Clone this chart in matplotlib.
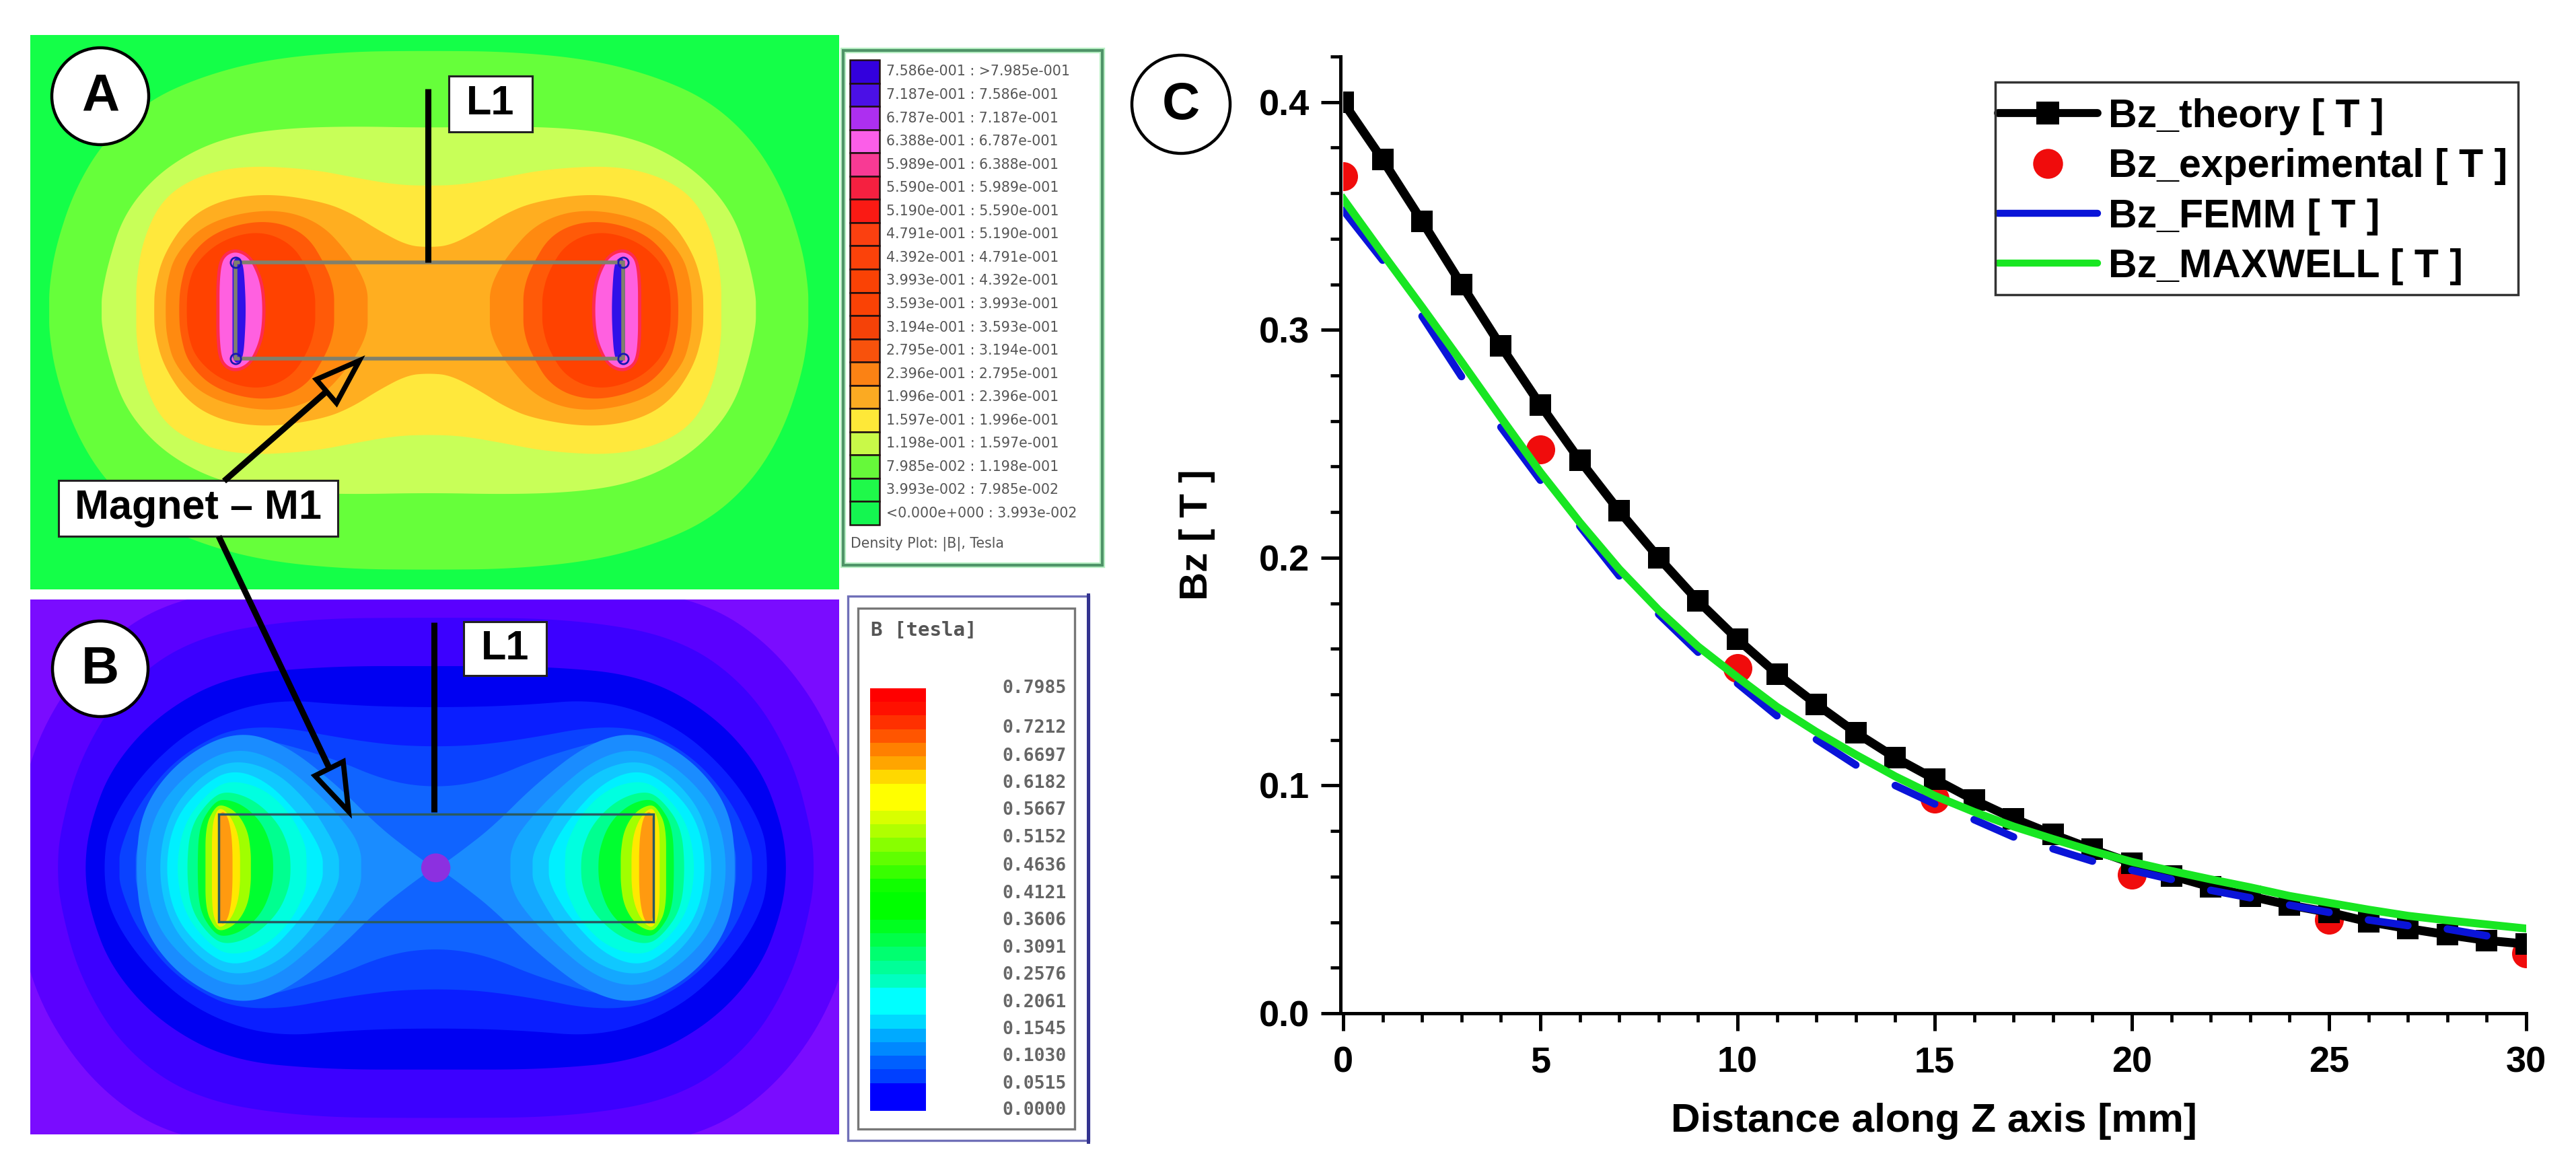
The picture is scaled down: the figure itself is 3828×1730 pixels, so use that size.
import numpy as np
import matplotlib
matplotlib.use("Agg")
import matplotlib.pyplot as plt
from matplotlib.lines import Line2D
from matplotlib.patches import Rectangle, Circle, Polygon, Ellipse

plt.rcParams['font.family'] = ['Liberation Sans', 'DejaVu Sans']
W, H = 3828, 1730

# ---------- chart C data ----------
z_mm = list(range(31))
bz_theory = [.400,.3747,.3477,.320,.2929,.2671,.2428,.2205,.200,.181,.1642,.149,.1357,.1232,.1122,.1028,
             .0936,.0855,.0785,.072,.066,.0604,.0555,.0514,.0475,.0443,.0402,.0372,.0345,.032,.0304]
bz_femm = [.3526,.3306,.306,.2795,.2573,.2340,.2139,.1920,.1752,.1585,.1448,.1306,.1202,.109,.100,.0919,
           .085,.0774,.0722,.0668,.0628,.0588,.054,.0507,.0475,.0443,.041,.0385,.037,.034,.032]
bz_maxwell = [.3575,.3335,.3100,.2860,.2615,.2375,.2155,.1950,.177,.161,.1475,.1345,.1235,.1135,.104,.0955,
              .0884,.0820,.0765,.0712,.0665,.0625,.0588,.0553,.0515,.0485,.0455,.0428,.0408,.039,.0372]
exp_z = [0, 5, 10, 15, 20, 25, 30]
bz_exp = [.3675,.2475,.1515,.0942,.0608,.041,.0262]
series_labels = ['Bz_theory [ T ]', 'Bz_experimental [ T ]', 'Bz_FEMM [ T ]', 'Bz_MAXWELL [ T ]']
x_ticks = [0, 5, 10, 15, 20, 25, 30]
y_ticks = [0.0, 0.1, 0.2, 0.3, 0.4]

# ---------- FEMM legend (panel A) ----------
femm_ranges = ['7.586e-001 : >7.985e-001','7.187e-001 : 7.586e-001','6.787e-001 : 7.187e-001','6.388e-001 : 6.787e-001',
               '5.989e-001 : 6.388e-001','5.590e-001 : 5.989e-001','5.190e-001 : 5.590e-001','4.791e-001 : 5.190e-001',
               '4.392e-001 : 4.791e-001','3.993e-001 : 4.392e-001','3.593e-001 : 3.993e-001','3.194e-001 : 3.593e-001',
               '2.795e-001 : 3.194e-001','2.396e-001 : 2.795e-001','1.996e-001 : 2.396e-001','1.597e-001 : 1.996e-001',
               '1.198e-001 : 1.597e-001','7.985e-002 : 1.198e-001','3.993e-002 : 7.985e-002','<0.000e+000 : 3.993e-002']
femm_colors = ['#3300dd','#4b10e6','#ad2ff0','#fb5ee8','#f83a94','#f52040','#fa1a14','#fb4010','#fb420a','#fa4205',
               '#fa4205','#f54208','#f8520c','#fb8214','#fbaa22','#fee838','#c9f948','#66f93a','#1ff94a','#14f650']

# ---------- Maxwell legend (panel B) ----------
maxwell_ticks = ['0.7985','0.7212','0.6697','0.6182','0.5667','0.5152','0.4636','0.4121','0.3606','0.3091','0.2576','0.2061','0.1545','0.1030','0.0515','0.0000']
maxwell_tick_y = [1023,1082,1124,1164,1204,1245,1287,1328,1368,1409,1449,1490,1530,1570,1611,1650]
maxwell_colors = ['#ff0000','#ff1000','#ff3000','#ff5500','#ff8000','#ffa500','#ffd800','#ffff00','#ffff00','#d8ff00','#b0ff00',
                  '#88ff00','#60ff00','#38ff00','#10ff00','#00ff00','#00ff00','#00ff20','#00ff48','#00ff70','#00ff98','#00ffc0',
                  '#00ffff','#00ffff','#00d8ff','#00aaff','#0088ff','#0060ff','#0040ff','#0000ff','#0000ff']

# ---------- field contours (dx, dy from panel centre, one quadrant) ----------
a_centre = (793, 822)
a_bg = '#14ff48'
a_outer = [
    ('#66ff3a', [(0,688),(150,686),(300,665),(420,620),(520,555),(600,450),(655,320),(690,170),(702,60),(702,0)]),
    ('#c8ff58', [(0,484),(150,488),(270,482),(363,462),(440,420),(510,350),(565,250),(592,130),(605,40),(605,0)]),
    ('#ffe83c', [(0,330),(60,333),(130,350),(220,375),(343,384),(430,355),(493,295),(528,190),(541,80),(541,0)]),
    ('#ffae20', [(0,167),(40,172),(93,212),(140,255),(193,287),(293,310),(380,295),(445,245),(490,150),(507,60),(508,0)]),
]
# lobes: left lobe, upper half, outer middle to inner middle
a_lobes = [
    ('#ff8a10', [(306,822),(308,750),(325,670),(385,585),(500,550),(590,585),(650,680),(680,760),(680,822)]),
    ('#ff5a08', [(331,822),(333,760),(348,680),(400,610),(490,580),(565,615),(605,710),(618,770),(618,822)]),
    ('#ff4200', [(345,822),(347,760),(362,695),(410,635),(480,610),(540,645),(572,720),(583,780),(583,822)]),
    ('#ff2a50', [(400,822),(400,750),(404,695),(416,668),(435,658),(456,668),(472,695),(488,750),(492,822)]),
    ('#ff60e0', [(406,822),(406,750),(410,695),(420,675),(435,667),(452,675),(466,695),(482,750),(486,822)]),
    ('#3010e8', [(430,822),(430,730),(430,700),(433,688),(438,682),(445,688),(449,700),(452,730),(455,822)]),
]
a_magnet = (435, 695, 1152, 950)

b_centre = (806, 765)
b_bg = '#7a0cff'
b_outer = [
    ('#5a00ff', [(0,790),(300,785),(490,745),(620,620),(720,420),(770,200),(785,60),(785,0)]),
    ('#3c00ff', [(0,695),(250,692),(450,640),(580,500),(660,300),(695,100),(700,0)]),
    ('#0000f2', [(0,560),(200,560),(380,535),(510,430),(600,280),(640,120),(650,0)]),
    ('#0a1eff', [(0,445),(150,450),(305,470),(440,400),(540,270),(605,120),(615,0)]),
    ('#0a42ff', [(0,335),(120,345),(345,408),(470,320),(550,180),(585,50),(585,0)]),
    ('#1064ff', [(0,222),(90,240),(200,310),(355,372),(470,300),(530,170),(555,50),(555,0)]),
]
b_lobes = [
    ('#1a8cff', [(250,765),(262,600),(330,465),(430,385),(520,415),(620,530),(700,650),(760,720),(802,765)]),
    ('#14a8ff', [(265,765),(285,610),(350,495),(430,430),(510,460),(590,560),(650,660),(668,720),(668,765)]),
    ('#10c8ff', [(292,765),(310,620),(365,515),(430,462),(510,495),(575,590),(612,680),(627,730),(627,765)]),
    ('#00f0ff', [(305,765),(322,630),(375,535),(430,490),(495,525),(555,620),(585,690),(597,735),(597,765)]),
    ('#00ffe0', [(325,765),(340,640),(385,555),(425,520),(490,545),(540,620),(565,700),(567,740),(567,765)]),
    ('#00ff90', [(345,765),(352,650),(388,575),(418,550),(470,575),(515,640),(535,710),(538,765)]),
    ('#00ff30', [(365,765),(368,650),(392,590),(412,572),(450,590),(485,640),(503,710),(506,765)]),
    ('#a0ff00', [(380,765),(380,650),(396,600),(410,588),(438,610),(458,660),(464,720),(464,765)]),
    ('#ffe800', [(392,765),(392,650),(400,608),(410,598),(428,625),(440,670),(444,720),(444,765)]),
    ('#ff9a10', [(405,765),(403,650),(405,622),(412,606),(422,625),(428,670),(430,720),(430,765)]),
]
b_magnet = (405, 615, 1208, 915)
b_spot = (806, 765, 54, 80)


def smooth_closed(pts, n=4):
    p = np.asarray(pts, float)
    for _ in range(n):
        q = np.roll(p, -1, axis=0)
        p = np.column_stack([0.75*p + 0.25*q, 0.25*p + 0.75*q]).reshape(-1, 2)
    return p


def quad_to_closed(q, c):
    q = np.asarray(q, float)
    a = np.c_[c[0]+q[:, 0], c[1]-q[:, 1]]
    b = np.c_[c[0]+q[-2:0:-1, 0], c[1]+q[-2:0:-1, 1]]
    d = np.c_[c[0]-q[:, 0], c[1]+q[:, 1]]
    e = np.c_[c[0]-q[-2:0:-1, 0], c[1]-q[-2:0:-1, 1]]
    return np.vstack([a, b, d, e])


def lobe_closed(h, c, right=False):
    h = np.asarray(h, float)
    low = np.c_[h[-2:0:-1, 0], 2*c[1]-h[-2:0:-1, 1]]
    pts = np.vstack([h, low])
    if right:
        pts = np.c_[2*c[0]-pts[:, 0], pts[:, 1]]
    return pts


fig = plt.figure(figsize=(W/100, H/100), dpi=100, facecolor='white')


def px_axes(x0, y0, x1, y1, **kw):
    return fig.add_axes([x0/W, 1-y1/H, (x1-x0)/W, (y1-y0)/H], **kw)


def field(ax, bg, outer, lobes, c):
    ax.set_facecolor(bg)
    for col, q in outer:
        ax.fill(*smooth_closed(quad_to_closed(q, c)).T, color=col, lw=0)
    for col, h in lobes:
        for r in (False, True):
            ax.fill(*smooth_closed(lobe_closed(h, c, r)).T, color=col, lw=0)
    ax.set_xticks([]); ax.set_yticks([])
    for s in ax.spines.values():
        s.set_visible(False)


axA = px_axes(45, 52, 1247, 876)
axA.set_xlim(56, 1552); axA.set_ylim(1562, 92)
field(axA, a_bg, a_outer, a_lobes, a_centre)
x0, y0, x1, y1 = a_magnet
axA.add_patch(Rectangle((x0, y0), x1-x0, y1-y0, fill=False, ec='#80806c', lw=4))
axA.plot([x0, x1, x0, x1], [y0, y0, y1, y1], 'o', mfc='none', mec='#1818b0', ms=11, mew=2)

axB = px_axes(45, 891, 1247, 1686)
axB.set_xlim(56, 1552); axB.set_ylim(1505, 20)
field(axB, b_bg, b_outer, b_lobes, b_centre)
x0, y0, x1, y1 = b_magnet
axB.add_patch(Rectangle((x0, y0), x1-x0, y1-y0, fill=False, ec='#2a5a60', lw=2.5))
axB.add_patch(Ellipse(b_spot[:2], b_spot[2], b_spot[3], color='#8c30e0', lw=0))

# ---------- chart C ----------
ax = px_axes(1996, 84, 3754, 1506)
ax.set_xlim(0, 30); ax.set_ylim(0, 0.42)
ax.plot(exp_z, bz_exp, 'o', color='#f00c0c', ms=31, mew=0, zorder=2)
ax.plot(z_mm, bz_theory, '-s', color='black', lw=9.5, ms=23, mew=0, zorder=3)
for i in range(0, len(z_mm)-1, 2):
    ax.plot(z_mm[i:i+2], bz_femm[i:i+2], '-', color='#0a14d8', lw=8, solid_capstyle='round', zorder=4)
ax.plot(z_mm, bz_maxwell, '-', color='#18e622', lw=8.5, zorder=5)
ax.spines['top'].set_visible(False); ax.spines['right'].set_visible(False)
ax.spines['left'].set_linewidth(3.6); ax.spines['bottom'].set_linewidth(3.6)
ax.spines['left'].set_position(('outward', 3))
ax.set_xticks(x_ticks); ax.set_xticks(z_mm, minor=True)
ax.set_yticks(y_ticks); ax.set_yticks(np.arange(0, 0.4201, 0.02), minor=True)
ax.set_yticklabels([f'{v:.1f}' for v in y_ticks])
ax.tick_params(axis='x', which='major', length=19, width=3.6, pad=16, labelsize=39)
ax.tick_params(axis='x', which='minor', length=9, width=3.4)
ax.tick_params(axis='y', which='major', length=21, width=3.6, pad=12, labelsize=39)
ax.tick_params(axis='y', which='minor', length=11, width=3.4)
for t in ax.get_xticklabels() + ax.get_yticklabels():
    t.set_fontweight('bold')
ax.set_xlabel('Distance along Z axis [mm]', fontsize=43.5, fontweight='bold', va='center')
ax.xaxis.set_label_coords(0.4995, (1506-1666)/1422)
ax.set_ylabel('Bz [ T ]', fontsize=42, fontweight='bold', va='center')
ax.yaxis.set_label_coords((1779-1996)/1758, 0.5)

handles = [Line2D([], [], color='black', lw=8.5, marker='s', ms=24, mew=0, solid_capstyle='round'),
           Line2D([], [], ls='none', color='#f00c0c', marker='o', ms=32, mew=0),
           Line2D([], [], color='#0a14d8', lw=7.5, solid_capstyle='round'),
           Line2D([], [], color='#18e622', lw=7.5, solid_capstyle='round')]
leg = ax.legend(handles, series_labels, loc='upper left', bbox_to_anchor=(2969/W, 1-146/H),
                bbox_transform=fig.transFigure, borderaxespad=0, borderpad=0, frameon=False,
                handlelength=2.5, handletextpad=0.27, labelspacing=0.327, numpoints=1,
                prop={'size': 42.5, 'weight': 'bold'})

# ---------- overlay in pixel units ----------
ov = px_axes(0, 0, W, H)
ov.set_xlim(0, W); ov.set_ylim(H, 0); ov.axis('off'); ov.patch.set_alpha(0)

ov.add_patch(Rectangle((2964.5, 122), 777.5, 316, fill=False, ec='#333333', lw=2.5))


def badge(cx, cy, r, s):
    ov.add_patch(Circle((cx, cy), r, fc='white', ec='black', lw=3.2))
    ov.text(cx, cy+1, s, fontsize=56, fontweight='bold', ha='center', va='center')


badge(149, 143, 72, 'A')
badge(149, 994, 71, 'B')
badge(1755, 155, 73, 'C')


def label_box(x0, y0, x1, y1, s):
    ov.add_patch(Rectangle((x0, y0), x1-x0, y1-y0, fc='white', ec='#222222', lw=2.2))
    ov.text((x0+x1)/2, (y0+y1)/2, s, fontsize=44, fontweight='bold', ha='center', va='center')


ov.plot([636, 636], [132, 390], color='black', lw=6.5, solid_capstyle='butt')
ov.plot([645, 645], [925, 1207], color='black', lw=6.5, solid_capstyle='butt')
ov.plot([333, 485], [715, 582], color='black', lw=6.5, solid_capstyle='butt')
ov.plot([325, 490], [797, 1143], color='black', lw=6.5, solid_capstyle='butt')
ov.add_patch(Polygon([(534, 536), (470, 564), (500, 599)], closed=True, fill=False, ec='black', lw=5.5, joinstyle='miter'))
ov.add_patch(Polygon([(518, 1206), (468, 1153), (510, 1132)], closed=True, fill=False, ec='black', lw=5.5, joinstyle='miter'))
label_box(667, 113, 791, 196, 'L1')
label_box(689, 924, 812, 1004, 'L1')
label_box(87, 714, 502, 797, 'Magnet \u2013 M1')

# FEMM legend
ov.add_patch(Rectangle((1253, 75), 385, 765, fill=False, ec='#b8f0c4', lw=6))
ov.add_patch(Rectangle((1253, 75), 385, 765, fill=False, ec='#4f9468', lw=3))
for i, (c, s) in enumerate(zip(femm_colors, femm_ranges)):
    y = 89 + i*34.55
    ov.add_patch(Rectangle((1263, y), 44, 34.55, fc=c, ec='#201010', lw=1.8))
    ov.text(1317, y+17.5, s, fontsize=14.8, color='#555555', family='DejaVu Sans', ha='left', va='center')
ov.text(1264, 808, 'Density Plot: |B|, Tesla', fontsize=14.8, color='#555555', family='DejaVu Sans', ha='left', va='center')

# Maxwell legend
ov.add_patch(Rectangle((1260, 886), 358, 809, fc='white', ec='#7070b8', lw=2.4))
ov.plot([1617, 1617], [884, 1697], color='#33338f', lw=3.6)
ov.add_patch(Rectangle((1275, 904), 322, 774, fill=False, ec='#777777', lw=2.4))
ov.text(1294, 936, 'B [tesla]', fontsize=21, fontweight='bold', color='#555555', family='DejaVu Sans Mono', ha='left', va='center')
n = len(maxwell_colors)
for i, c in enumerate(maxwell_colors):
    ov.add_patch(Rectangle((1293, 1023 + i*627/n), 83, 627/n + .5, fc=c, lw=0))
for s, y in zip(maxwell_ticks, maxwell_tick_y):
    ov.text(1585, y, s, fontsize=19, fontweight='bold', color='#666666', family='DejaVu Sans Mono', ha='right', va='center')

fig.savefig('out.png', dpi=100, facecolor='white')
